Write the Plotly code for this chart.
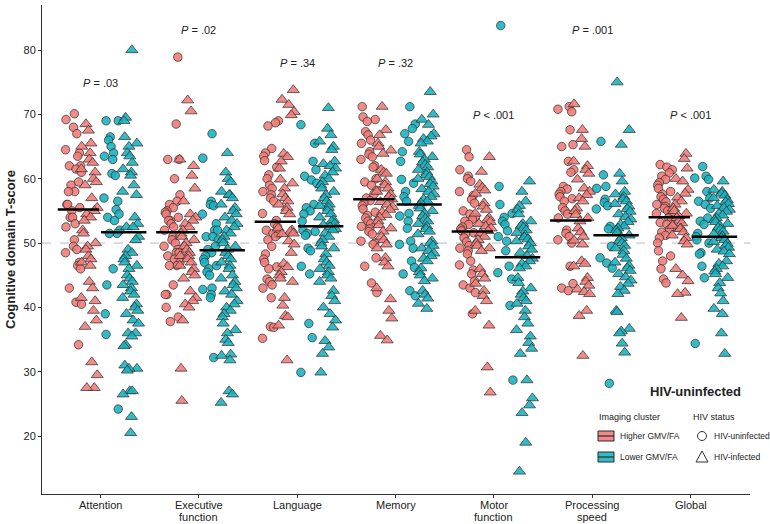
import plotly.graph_objects as go

# %%
# categories and axis labels
domains = ["Attention", "Executive<br>function", "Language", "Memory",
           "Motor<br>function", "Processing<br>speed", "Global"]
y_ticks = [20, 30, 40, 50, 60, 70, 80]

# T-scores, per domain / imaging cluster / HIV status
attention_hi_uninf = [69.2, 70.1, 68, 67, 64.5, 64, 63.5, 62, 62, 61.5, 61, 59.5, 59, 58, 58, 56, 56, 55.5,
                      55, 54, 54, 53, 52.5, 50.5, 49.5, 49, 48.5, 47, 46.5, 46, 43, 40.8, 40.5, 34.2]
attention_hi_inf = [68.5, 67.5, 65.5, 65, 64, 63, 62.5, 61.5, 61, 60, 59.5, 59, 57, 55.5, 55, 54.5, 54, 53.5,
                    52, 51.5, 50, 49.5, 49, 48, 47.5, 47, 46.5, 44, 43, 41.5, 41, 39.5, 38, 37, 31.5, 29.5,
                    27.5, 27.5]
attention_lo_uninf = [69, 69, 66.5, 66, 65, 64, 63.5, 63, 60.8, 60.5, 57, 56.5, 55.2, 54.5, 54, 53.5, 52,
                      51.5, 51.5, 46, 43.5, 39, 35.8, 24.2]
attention_lo_inf = [80, 69.5, 69, 66.5, 65.5, 65, 64, 63.5, 62.5, 61.5, 61, 60.5, 59, 58, 57.5, 54, 53, 52.5,
                    52.5, 51, 50.5, 49, 48.5, 48, 47.5, 47, 46.5, 46, 45, 44.5, 44, 43.5, 43, 42.5, 42, 41.5,
                    40.5, 40, 39.5, 39, 38, 37.5, 36, 36, 35.5, 34.2, 34, 31, 30.5, 30.5, 30.2, 27, 27, 26.5,
                    23, 20.5]

executive_hi_uninf = [78.9, 68.5, 63, 63, 60, 57.5, 56.5, 56, 55.5, 55, 54.8, 54.5, 54, 53.5, 53.5, 53, 52.5,
                      52, 51, 50.5, 50, 49.5, 49, 48.5, 48.5, 48, 47.5, 47, 46.5, 46.5, 43.5, 42, 42, 40,
                      38.5, 37.8]
executive_hi_inf = [72.2, 70.5, 63, 62, 60.5, 58.5, 56.5, 54.5, 54, 53.5, 53, 52.5, 52, 51.5, 51, 50.5, 50,
                    49.5, 49, 48.5, 48, 48, 47.5, 47, 46.5, 46, 45.5, 45, 44.5, 42.5, 41.5, 41, 40.5, 40, 38,
                    30.5, 25.5]
executive_lo_uninf = [67, 63.2, 56.5, 56, 55.8, 54.5, 53, 52, 52, 51, 51, 50.5, 49.5, 49, 48.5, 48, 47.5, 47,
                      46.5, 46, 45.5, 45, 43, 42.8, 42, 41.5, 32.2]
executive_lo_inf = [64, 61, 60, 59.5, 58, 57.5, 57.5, 57, 56, 55.5, 55, 54.5, 54, 53.5, 53, 52.5, 52, 51.5,
                    51, 50.5, 50, 49.5, 49, 48.5, 48, 47.5, 47, 46.5, 46, 45, 44.5, 44, 43.5, 43, 42.5, 42,
                    41, 40.5, 40, 39.5, 39, 38.5, 37.5, 36.5, 36, 35, 34.5, 32.7, 32.5, 31.8, 27, 26.5, 25.2]

language_hi_uninf = [69, 68.7, 68.2, 64.7, 64, 63.5, 62.8, 61.8, 60.6, 60, 59, 58.5, 58, 57.5, 57, 56.5, 54.6,
                     53.5, 53, 52.5, 52, 51.5, 51.4, 51, 50.5, 49.5, 48.3, 47.5, 47, 46.3, 46, 44.4, 44,
                     43.5, 43, 41.5, 37, 36.9, 35.2]
language_hi_inf = [73.8, 72.3, 71.5, 70.4, 69.9, 63.9, 63.4, 62.7, 61.6, 59.9, 59.3, 58.5, 57.6, 57, 56.5, 56,
                   55.5, 55, 54.5, 52.3, 52, 51.8, 51.5, 51.4, 50.3, 49.8, 48.5, 46.8, 46.3, 45.5, 45, 44.5,
                   44, 41.5, 40.3, 38.7, 38.5, 37.2, 31.8]
language_lo_uninf = [68.4, 65.5, 62.7, 61.4, 60.4, 59.8, 59.3, 56, 55.5, 55, 54.5, 53.4, 52, 51.8, 51.5, 51.2,
                     49.2, 48.8, 46.4, 45.2, 37.5, 35.3, 29.9]
language_lo_inf = [71, 67.8, 66.8, 65.8, 65, 64.5, 62.7, 62.3, 62, 61.6, 61, 60.5, 60, 59.5, 59, 58.5, 58,
                   57.5, 57, 56.5, 56, 55.8, 55.5, 55, 54.5, 54, 53.6, 53.4, 53, 52.8, 52.5, 52.2, 52, 51.5,
                   51, 50.5, 50, 49.5, 49.2, 48.3, 47.5, 47, 46.5, 46, 45.5, 45, 44.5, 44, 42.6, 41.8, 41, 40,
                   39, 38, 36.9, 34.8, 33.8, 32.8, 29.9]

memory_hi_uninf = [71.2, 69.6, 69.2, 68.9, 67.3, 66.8, 66, 65.5, 64.2, 63.8, 63.4, 63, 62, 61.8, 60, 59.5, 59,
                   58.2, 57.6, 57, 56.6, 56.2, 55.8, 55.3, 54.8, 54.3, 53.9, 53.4, 53, 52.6, 52.2, 51.8, 51.4,
                   50.3, 50, 49.8, 47.7, 46.4, 43.8, 42.3]
memory_hi_inf = [71.2, 67.6, 66.8, 65.5, 65, 64.4, 63.9, 61.4, 61, 60.8, 60, 59.5, 59, 58.5, 58, 57.6, 57.2,
                 56.8, 56.4, 56, 55.6, 55.2, 54.8, 54.4, 54, 53.4, 52.8, 52.3, 51.8, 51, 50.5, 49.8, 49.2,
                 47.7, 47, 46.4, 43, 41.3, 39.5, 38.3, 35.6, 34.9]
memory_lo_uninf = [71.2, 68.5, 67.8, 67, 65.8, 64.2, 62.7, 59.9, 59.3, 58, 57.2, 56.5, 54.6, 54.2, 53.4, 52.3,
                   50.3, 49.8, 49.2, 47.2, 46.2, 45.2, 42.6, 41.8]
memory_lo_inf = [73.5, 70, 69.2, 68.4, 67, 66.6, 66.2, 65.8, 65.5, 64.2, 63.8, 63.4, 63, 62.6, 62.2, 61.8,
                 61.4, 61, 60.6, 60.3, 60, 59.6, 59.2, 58.8, 58.4, 58, 57.6, 57.2, 56.8, 56.5, 56.2, 55.8,
                 55.4, 55, 54.6, 54.2, 53.8, 53.4, 53, 52.6, 52.2, 51.8, 51.4, 50.3, 50, 49.6, 49.2, 48.8,
                 48.4, 48, 47.6, 47.2, 46.1, 45.5, 45, 44.5, 44.1, 42.6, 42, 41.4, 40.6, 39.8]

motor_hi_uninf = [64.5, 63.4, 61.4, 60.4, 60, 59.6, 58, 57.4, 56.8, 56.2, 55, 54.5, 54, 53.7, 53.4, 52.9, 52.5,
                  52.2, 51.9, 51.6, 51.4, 50.8, 50.2, 49.6, 49.2, 48.8, 48.3, 47.2, 46.6, 45.8, 45.2, 44.1,
                  43.5, 43, 42.3, 39]
motor_hi_inf = [63.4, 61.1, 59.1, 58.6, 58.2, 57.7, 56.2, 55.7, 55.2, 54.6, 53.9, 53.6, 53.3, 53, 52.6, 52.3,
                51.9, 51.5, 51, 50.5, 50, 49.6, 49.2, 48.8, 46, 45.2, 44.5, 43.7, 42.6, 41.8, 41, 39.5, 37.2,
                30.7, 26.8]
motor_lo_uninf = [83.8, 58.8, 56, 54.6, 54, 53.4, 52.9, 51.9, 51, 50.3, 48.8, 46.4, 45.4, 44.4, 40.3, 28.7]
motor_lo_inf = [59.6, 58, 56.5, 55.8, 55.2, 54.5, 53.4, 53, 52.7, 52.4, 52, 51.6, 51.2, 50.9, 50.6, 50.3, 50,
                49.5, 49, 48.5, 48, 47.6, 47.2, 46.8, 46.4, 46.1, 44.6, 43.8, 43, 42.5, 42, 41.5, 41, 40.6,
                39.5, 38.5, 37.5, 36.5, 35.5, 34.5, 33.6, 32.8, 28.7, 25.9, 24.8, 23.6, 19, 14.5]

speed_hi_uninf = [71.2, 70.8, 70.4, 67.6, 65.3, 65, 62.7, 61.4, 61, 58.8, 58.4, 58, 57.6, 57.2, 56.9, 56.5,
                  55.5, 55, 54.5, 53.9, 52, 51.5, 51, 50.5, 50, 46.4, 43.7, 43, 42.6]
speed_hi_inf = [71.6, 67.6, 66.2, 65, 62.7, 62, 61.4, 60.8, 59.9, 58.5, 58, 57.5, 57, 56.5, 55.4, 55, 54.4,
                53.9, 53.4, 52.3, 51.7, 51, 50.4, 49.8, 47.2, 46.8, 46.4, 44.6, 44, 43.4, 42.8, 42.4, 42.1,
                39.5, 38.7, 32.5]
speed_lo_uninf = [65.8, 60.6, 58.8, 58.5, 56.8, 56.3, 55.8, 55.3, 52.6, 52.2, 49.5, 47.7, 46.9, 46.1, 28.2]
speed_lo_inf = [75, 67.6, 65.3, 60.8, 59.6, 58, 57.6, 57.2, 56.8, 56.5, 56.1, 55.7, 55.3, 54.9, 54.5, 54.1,
                53.7, 53.3, 52.9, 52.6, 52.3, 52, 51.6, 51.2, 50.8, 50.4, 50, 49.6, 49.2, 48.8, 48.2, 47.6,
                47, 46.5, 46.1, 45.7, 45.2, 44.7, 44.2, 43.7, 43.2, 42.6, 42.1, 39.5, 39.3, 36.7, 36.3, 36,
                34.4, 33]

global_hi_uninf = [62.2, 61.8, 61.4, 60.9, 60.4, 59.9, 59.4, 59, 58.5, 58, 57.6, 57.2, 56.8, 56.4, 56, 55.7,
                   55.4, 55, 54.6, 54.2, 53.9, 53.6, 53.2, 52.9, 52.5, 52.1, 51.7, 51.2, 50.8, 50, 48.8, 48,
                   47.2, 46, 44.4, 43.8]
global_hi_inf = [63.9, 63.1, 61.6, 60, 59.6, 58.3, 57.7, 57.1, 56.5, 56, 55.4, 55, 54.6, 54.2, 53.9, 53.5,
                 53.1, 52.7, 52.3, 52.2, 51.7, 51.2, 50.8, 50.3, 49.8, 46, 45, 44.1, 42.3, 42.1, 38.4]
global_lo_uninf = [61.9, 60.4, 60.1, 59.9, 58, 57, 56.5, 56, 55.4, 53.9, 53.4, 52.9, 51.5, 51, 50.5, 50, 48.5,
                   48.3, 46.4, 44.6, 34.4]
global_lo_inf = [59.6, 58.3, 58, 57.7, 57.4, 57, 56.7, 56.4, 56.1, 55.8, 55.5, 55.2, 54.9, 54.6, 54.3, 53.9,
                 53.6, 53.3, 53, 52.7, 52.4, 52.1, 51.8, 51.4, 51.1, 50.8, 50.5, 50.2, 49.9, 49.6, 49.3, 49,
                 48.7, 48.3, 47.2, 46.8, 46.4, 46, 45.6, 45.2, 44.6, 43.8, 43, 42.2, 41, 39.8, 39, 36, 32.8]

# medians drawn as black bars
median_hi = [55.2, 51.7, 53.3, 56.8, 51.8, 53.5, 54.0]
median_lo = [51.7, 48.9, 52.6, 56.0, 47.8, 51.2, 51.0]

# p-values and their heights
p_labels = ["<i>P</i> = .03", "<i>P</i> = .02", "<i>P</i> = .34", "<i>P</i> = .32",
            "<i>P</i> < .001", "<i>P</i> = .001", "<i>P</i> < .001"]
p_heights = [74.9, 83.1, 78.0, 78.0, 69.9, 83.1, 69.9]

# %%
hi_uninf = [attention_hi_uninf, executive_hi_uninf, language_hi_uninf, memory_hi_uninf,
            motor_hi_uninf, speed_hi_uninf, global_hi_uninf]
hi_inf = [attention_hi_inf, executive_hi_inf, language_hi_inf, memory_hi_inf,
          motor_hi_inf, speed_hi_inf, global_hi_inf]
lo_uninf = [attention_lo_uninf, executive_lo_uninf, language_lo_uninf, memory_lo_uninf,
            motor_lo_uninf, speed_lo_uninf, global_lo_uninf]
lo_inf = [attention_lo_inf, executive_lo_inf, language_lo_inf, memory_lo_inf,
          motor_lo_inf, speed_lo_inf, global_lo_inf]

RED = "rgba(240,122,118,0.88)"
TEAL = "rgba(22,178,190,0.88)"
EDGE = "#2b2b2b"

# fixed jitter pattern (fractions of the jitter width)
JIT = [-0.9, 0.3, -0.2, 0.7, -0.6, 0.1, 0.95, -0.4, 0.5, -0.8, 0.0, 0.6,
       -0.1, 0.85, -0.7, 0.4, -0.3, 0.2, -0.5, 0.75, -0.95, 0.15]

groups = [
    (hi_uninf, -0.27, RED, "circle", 8.5),
    (hi_inf, -0.11, RED, "triangle-up", 10.5),
    (lo_uninf, 0.12, TEAL, "circle", 8.5),
    (lo_inf, 0.31, TEAL, "triangle-up", 10.5),
]

fig = go.Figure()

for g, (series, off, col, sym, sz) in enumerate(groups):
    xs, ys = [], []
    for d, vals in enumerate(series):
        for k, v in enumerate(vals):
            xs.append(d + 1 + off + 0.085 * JIT[(k * 5 + d * 3 + g * 7) % len(JIT)])
            ys.append(v)
    fig.add_trace(go.Scatter(
        x=xs, y=ys, mode="markers", showlegend=False, hoverinfo="skip",
        marker=dict(symbol=sym, size=sz, color=col,
                    line=dict(color=EDGE, width=0.7))))

# median bars
mx, my = [], []
for d in range(len(domains)):
    mx += [d + 1 - 0.43, d + 1 - 0.01, None, d + 1 + 0.01, d + 1 + 0.47, None]
    my += [median_hi[d], median_hi[d], None, median_lo[d], median_lo[d], None]
fig.add_trace(go.Scatter(x=mx, y=my, mode="lines", showlegend=False, hoverinfo="skip",
                         line=dict(color="black", width=2.5)))

# p-value labels
for d in range(len(domains)):
    fig.add_annotation(x=d + 1, y=p_heights[d], text=p_labels[d], showarrow=False,
                       font=dict(size=11, color="#222"))

# dashed reference at 50
fig.add_shape(type="line", xref="paper", x0=0, x1=1, yref="y", y0=50, y1=50,
              line=dict(color="#bbbbbb", width=1, dash="dash"), layer="below")

# %%
# legend drawn by hand (pixel -> paper helpers)
L, R, T, B = 42, 20, 5, 30
PW, PH = 770 - L - R, 524 - T - B


def px(x):
    return (x - L) / PW


def py(y):
    return (524 - B - y) / PH


def label(x, y, text, size=9, xanchor="left", **kw):
    fig.add_annotation(xref="paper", yref="paper", x=px(x), y=py(y), text=text,
                       xanchor=xanchor, yanchor="middle", showarrow=False,
                       font=dict(size=size, color="#222"), **kw)


# x tick labels, one line per annotation so the two-line ones stay tight
for d, lab in enumerate(domains):
    for j, part in enumerate(lab.split("<br>")):
        fig.add_annotation(x=d + 1, yref="paper", y=py(505 + 12 * j), text=part,
                           yanchor="middle", showarrow=False,
                           font=dict(size=11, color="#222"))

label(743, 391, "<b>HIV-uninfected</b>", size=13, xanchor="right")
label(597, 417, "Imaging cluster")
label(691, 417, "HIV status")
for yy, col, lab in [(436, RED, "Higher GMV/FA"), (457, TEAL, "Lower GMV/FA")]:
    fig.add_shape(type="rect", xref="paper", yref="paper", x0=px(598), x1=px(614),
                  y0=py(yy + 5), y1=py(yy - 5), fillcolor=col, line=dict(color=EDGE, width=1))
    fig.add_shape(type="line", xref="paper", yref="paper", x0=px(598), x1=px(614),
                  y0=py(yy), y1=py(yy), line=dict(color=EDGE, width=1.2))
    label(618, yy, lab, size=8.5)
fig.add_shape(type="circle", xref="paper", yref="paper", x0=px(697.5), x1=px(706.5),
              y0=py(440.5), y1=py(431.5), line=dict(color="#333", width=1))
fig.add_shape(type="path", xref="paper", yref="paper",
              path=f"M {px(696)} {py(462)} L {px(708)} {py(462)} L {px(702)} {py(451)} Z",
              line=dict(color="#333", width=1))
label(712, 436, "HIV-uninfected", size=8.5)
label(712, 457, "HIV-infected", size=8.5)

# y title
label(11, 250, "<b>Cognitive domain T-score</b>", size=13, xanchor="center", textangle=-90)

fig.update_layout(
    width=770, height=524,
    margin=dict(l=L, r=R, t=T, b=B, autoexpand=False),
    plot_bgcolor="white", paper_bgcolor="white",
    font=dict(family="Liberation Sans, Arial, sans-serif", color="#222"),
    xaxis=dict(range=[0.41, 7.6], tickvals=list(range(1, 8)), showticklabels=False,
               automargin=False, showgrid=False, zeroline=False, showline=True,
               linecolor="#333", ticks="outside", ticklen=3, tickcolor="#333"),
    yaxis=dict(range=[11, 87], tickvals=y_ticks, showgrid=False, zeroline=False,
               automargin=False, showline=True, linecolor="#333", ticks="outside",
               ticklen=3, tickcolor="#333", tickfont=dict(size=11)),
)

# the page's default body margin would push the 770x524 figure off the window
fig.write_html("out.html", config={"displayModeBar": False},
               post_script="document.body.style.margin='0';")
